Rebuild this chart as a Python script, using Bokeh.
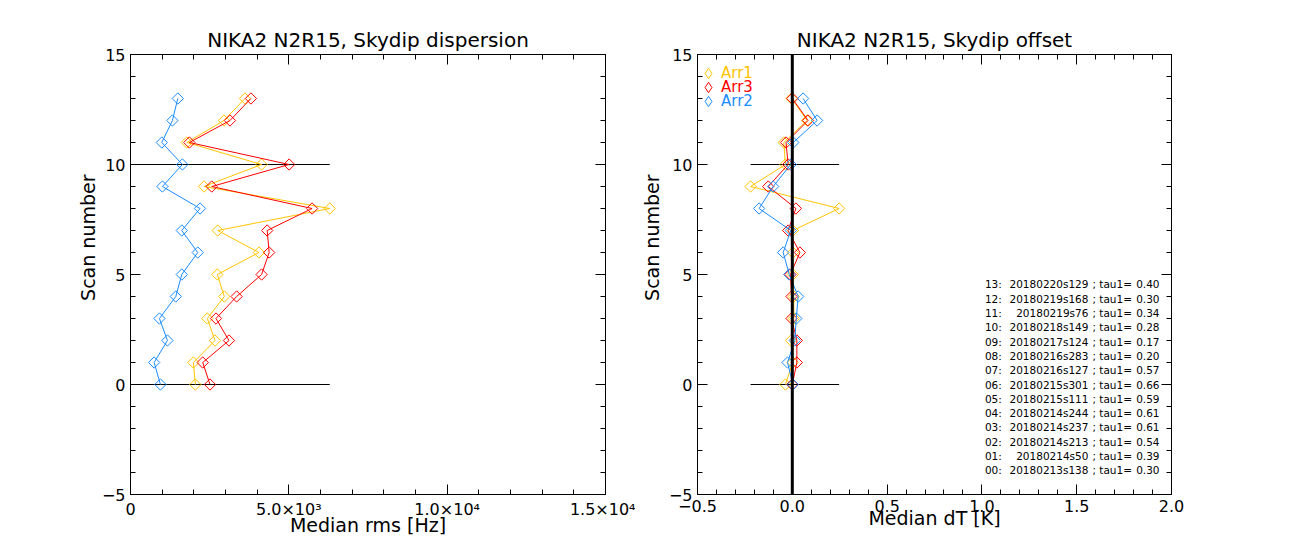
import math
from bokeh.plotting import figure
from bokeh.models import (Range1d, FixedTicker, LinearAxis, Span, Legend, LegendItem,
                          CustomLabelingPolicy, Title)
from bokeh.layouts import row
from bokeh.embed import file_html
from bokeh.resources import INLINE
from bokeh.core.properties import value

# ---------------- data ----------------
scan = list(range(14))

# Median rms [Hz] per scan (scan 0..13)
rms_arr1 = [2048, 1985, 2669, 2426, 2962, 2741, 4055, 2754, 6292, 2322, 4140, 1777, 2952, 3614]
rms_arr3 = [2511, 2281, 3110, 2700, 3352, 4140, 4379, 4316, 5734, 2565, 5009, 1859, 3141, 3803]
rms_arr2 = [945, 747, 1166, 914, 1430, 1619, 2123, 1619, 2196, 1008, 1639, 989, 1323, 1494]

# Median dT [K] per scan (scan 0..13)
dt_arr1 = [-0.036, 0.002, -0.007, 0.008, 0.008, 0.003, 0.003, 0.003, 0.247, -0.220, -0.036, -0.045, 0.078, -0.004]
dt_arr3 = [0.000, 0.024, 0.024, -0.004, -0.004, -0.010, 0.040, -0.022, 0.019, -0.127, -0.022, -0.033, 0.083, 0.000]
dt_arr2 = [0.003, -0.025, 0.013, 0.021, 0.031, -0.016, -0.048, -0.008, -0.175, -0.101, -0.008, 0.005, 0.131, 0.057]

scan_names = ["20180213s138", "20180214s50", "20180214s213", "20180214s237", "20180214s244",
              "20180215s111", "20180215s301", "20180216s127", "20180216s283", "20180217s124",
              "20180218s149", "20180219s76", "20180219s168", "20180220s129"]
tau1 = [0.30, 0.39, 0.54, 0.61, 0.61, 0.59, 0.66, 0.57, 0.20, 0.17, 0.28, 0.34, 0.30, 0.40]

ref_scans = [0, 10]

series_names = ["Arr1", "Arr3", "Arr2"]
colors = {"Arr1": "#ffc400", "Arr3": "#ff0000", "Arr2": "#1a8cff"}

y_ticks = [-5, 0, 5, 10, 15]
y_labels = {-5: "\u22125", 0: "0", 5: "5", 10: "10", 15: "15"}
x1_ticks = [0, 5000, 10000, 15000]
x1_labels = {0: "0", 5000: "5.0\u00d710\u00b3", 10000: "1.0\u00d710\u2074", 15000: "1.5\u00d710\u2074"}
x2_ticks = [-0.5, 0.0, 0.5, 1.0, 1.5, 2.0]
x2_labels = {-0.5: "\u22120.5", 0.0: "0.0", 0.5: "0.5", 1.0: "1.0", 1.5: "1.5", 2.0: "2.0"}

FONT = "DejaVu Sans"
TICK_FS = "16px"
LABEL_FS = "19px"

NO_LABELS = CustomLabelingPolicy(code="""
    for (let i = 0; i < indices.size; i++) { indices.unset(i) }
    return indices
""")


def style_axis(ax, ticks, minor, labels=None, show=True):
    ax.ticker = FixedTicker(ticks=ticks, minor_ticks=minor)
    ax.axis_line_color = "black"
    ax.major_tick_line_color = "black"
    ax.minor_tick_line_color = "black"
    ax.major_tick_in = 10
    ax.major_tick_out = 0
    ax.minor_tick_in = 5
    ax.minor_tick_out = 0
    ax.major_label_text_font = FONT
    ax.major_label_text_color = "black"
    ax.axis_label_text_font = FONT
    ax.axis_label_text_font_style = "normal"
    ax.axis_label_text_font_size = LABEL_FS
    ax.axis_label_text_color = "black"
    if show:
        ax.major_label_text_font_size = TICK_FS
        if labels:
            ax.major_label_overrides = labels
    else:
        ax.major_label_text_font_size = "0px"
        ax.major_label_policy = NO_LABELS
        ax.major_label_standoff = 0


def make_fig(title, xr, xticks, xminor, xlabels, xlabel, left_border, right_border, fw, ystand):
    p = figure(frame_width=fw, frame_height=440, x_range=xr, y_range=Range1d(-5, 15),
               output_backend="svg", toolbar_location=None,
               min_border_left=left_border, min_border_right=right_border,
               min_border_top=54, min_border_bottom=40)
    p.title.text = title
    p.title.align = "center"
    p.title.text_font = FONT
    p.title.text_font_style = "normal"
    p.title.text_font_size = "20px"
    p.title.text_color = "black"
    p.title.standoff = 5
    p.xgrid.visible = False
    p.ygrid.visible = False
    p.outline_line_color = "black"
    p.background_fill_color = "white"
    p.border_fill_color = "white"
    ymin = list(range(-5, 16))
    style_axis(p.xaxis[0], xticks, xminor, xlabels)
    p.xaxis[0].axis_label = xlabel
    p.xaxis[0].axis_label_standoff = -8
    style_axis(p.yaxis[0], y_ticks, ymin, y_labels)
    # y title, shifted upward along the axis as in the reference
    p.add_layout(Title(text="Scan number", align="right", offset=120, standoff=ystand,
                       text_font=FONT, text_font_size=LABEL_FS, text_font_style="normal",
                       text_color="black"), "left")
    top = LinearAxis()
    style_axis(top, xticks, xminor, show=False)
    p.add_layout(top, "above")
    right = LinearAxis()
    style_axis(right, y_ticks, ymin, show=False)
    p.add_layout(right, "right")
    return p


def draw_series(p, xs_by_name):
    allx = [v for n in series_names for v in xs_by_name[n]]
    x0 = min(0, min(allx))
    x1 = max(allx)
    p.segment(x0=[x0] * len(ref_scans), y0=ref_scans, x1=[x1] * len(ref_scans), y1=ref_scans,
              line_color="black", line_width=1)
    for n in series_names:
        p.line(xs_by_name[n], scan, line_color=colors[n], line_width=1)
        p.scatter(xs_by_name[n], scan, marker="square", angle=math.pi / 4, size=8,
                  fill_color=None, line_color=colors[n], line_width=1)


# ---------------- left panel ----------------
x1minor = list(range(0, 15001, 1000))
p1 = make_fig("NIKA2 N2R15, Skydip dispersion", Range1d(0, 15000), x1_ticks, x1minor,
              x1_labels, "Median rms [Hz]", 130, 30, 475, 0)
draw_series(p1, {"Arr1": rms_arr1, "Arr3": rms_arr3, "Arr2": rms_arr2})

# ---------------- right panel ----------------
x2minor = [round(-0.5 + 0.1 * i, 2) for i in range(26)]
p2 = make_fig("NIKA2 N2R15, Skydip offset", Range1d(-0.5, 2.0), x2_ticks, x2minor,
              x2_labels, "Median dT [K]", 61, 40, 474, 6)
p2.add_layout(Span(location=0, dimension="height", line_color="black", line_width=3))
draw_series(p2, {"Arr1": dt_arr1, "Arr3": dt_arr3, "Arr2": dt_arr2})

# legend (one per entry so each label keeps its own colour)
for i, n in enumerate(series_names):
    proxy = p2.scatter(x=[float("nan")], y=[float("nan")], marker="diamond", size=10,
                       fill_color=None, line_color=colors[n], line_width=1)
    lg = Legend(items=[LegendItem(label=n, renderers=[proxy])],
                location=(-2, 408 - 14 * i), orientation="vertical",
                background_fill_alpha=0, border_line_color=None,
                glyph_width=26, glyph_height=26, label_height=14, label_standoff=-2,
                padding=0, margin=0, spacing=0,
                label_text_font=FONT, label_text_font_size="15px",
                label_text_color=colors[n])
    p2.add_layout(lg)

# scan list text block
row_step = 0.65
ys = [(i - 6) * row_step for i in scan]
idx_txt = ["%02d:" % i for i in scan]
tau_lbl = ["; tau1=" for _ in scan]
tau_txt = ["%.2f" % t for t in tau1]
common = dict(text_font=value(FONT), text_font_size="10.5px", text_color="black",
              text_baseline="middle")
p2.text(x=[1.105] * 14, y=ys, text=idx_txt, text_align="right", **common)
p2.text(x=[1.562] * 14, y=ys, text=scan_names, text_align="right", **common)
p2.text(x=[1.583] * 14, y=ys, text=tau_lbl, text_align="left", **common)
p2.text(x=[1.937] * 14, y=ys, text=tau_txt, text_align="right", **common)

layout = row(p1, p2)
open("out.html", "w").write(file_html(layout, INLINE))
